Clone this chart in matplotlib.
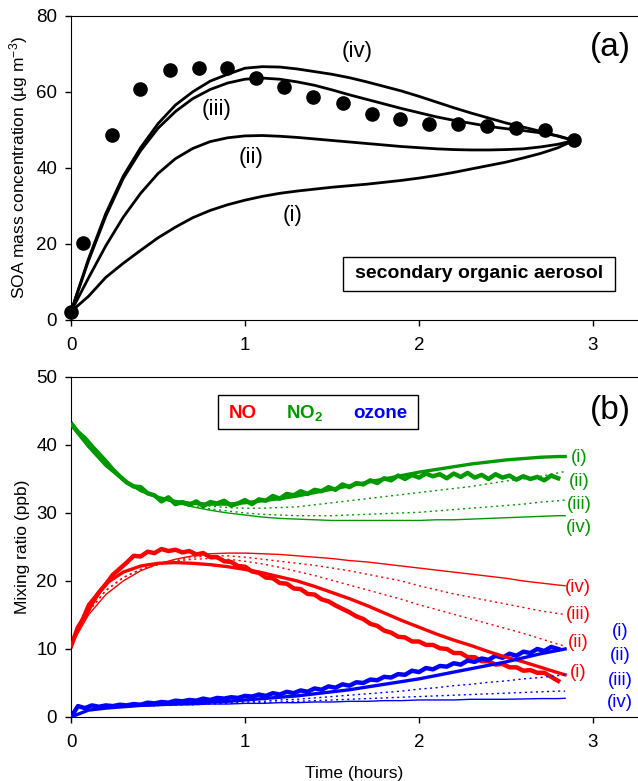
import numpy as np
import matplotlib
matplotlib.use("Agg")
import matplotlib.pyplot as plt
from matplotlib.patches import Rectangle

plt.rcParams['font.family'] = ['Liberation Sans', 'DejaVu Sans']
plt.rcParams['mathtext.fontset'] = 'custom'
plt.rcParams['mathtext.rm'] = 'Liberation Sans'
plt.rcParams['mathtext.bf'] = 'Liberation Sans:bold'
plt.rcParams['mathtext.default'] = 'regular'

# ---- panel (a): SOA mass ----
soa_t = [0.0, 0.067, 0.234, 0.398, 0.567, 0.734, 0.897, 1.061, 1.226, 1.393,
         1.561, 1.728, 1.893, 2.059, 2.226, 2.391, 2.559, 2.726, 2.891]
soa_obs = [2.1, 20.2, 48.7, 60.7, 65.8, 66.2, 66.2, 63.6, 61.2, 58.6,
           57.0, 54.1, 52.9, 51.6, 51.6, 51.1, 50.4, 50.0, 47.2]

ta = [0.0, 0.1, 0.2, 0.3, 0.4, 0.5, 0.6, 0.7, 0.8, 0.9, 1.0, 1.1, 1.2, 1.3, 1.4,
      1.5, 1.6, 1.7, 1.8, 1.9, 2.0, 2.1, 2.2, 2.3, 2.4, 2.5, 2.6, 2.7, 2.8, 2.89]
soa_i = [2.2, 6.2, 11.2, 14.9, 18.3, 21.6, 24.4, 26.9, 28.8, 30.3, 31.5, 32.5, 33.3, 33.9, 34.4,
         34.9, 35.3, 35.7, 36.2, 36.7, 37.3, 38.0, 38.8, 39.7, 40.6, 41.5, 42.6, 43.8, 45.3, 47.2]
soa_ii = [2.2, 11.0, 19.5, 27.0, 33.3, 38.5, 42.4, 45.1, 46.9, 47.9, 48.4, 48.5, 48.3, 48.0, 47.6,
          47.2, 46.8, 46.4, 46.0, 45.6, 45.3, 45.0, 44.8, 44.7, 44.7, 44.8, 45.0, 45.5, 46.2, 47.2]
soa_iii = [2.2, 15.5, 27.3, 37.2, 44.5, 50.4, 54.8, 58.2, 60.6, 62.3, 63.3, 63.6, 63.3, 62.6, 61.7,
           60.5, 59.2, 58.0, 56.8, 55.6, 54.5, 53.4, 52.5, 51.7, 50.9, 50.3, 49.8, 49.2, 48.4, 47.2]
soa_iv = [2.2, 16.0, 28.0, 37.8, 45.3, 51.6, 56.5, 60.0, 62.8, 64.6, 66.2, 66.6, 66.5, 66.0, 65.3,
          64.6, 63.7, 62.6, 61.4, 60.2, 58.8, 57.3, 55.8, 54.4, 53.1, 51.8, 50.7, 49.6, 48.3, 47.2]

# ---- panel (b): measured mixing ratios (ppb), every 0.04 h ----
tm = np.round(np.arange(0, 2.81, 0.04), 2)
no2_obs = [43.2, 41.9, 41.0, 39.8, 38.7, 37.6, 36.4, 35.4, 34.5, 33.9, 33.8, 32.9, 32.6, 31.7,
           32.3, 31.3, 31.6, 31.2, 31.7, 31.0, 31.6, 31.4, 31.8, 31.1, 31.4, 31.9, 31.3, 32.0,
           31.8, 32.5, 32.1, 32.8, 32.6, 33.2, 32.8, 33.4, 33.2, 33.8, 33.4, 34.2, 33.8, 34.4,
           34.2, 34.8, 34.4, 35.1, 34.8, 35.5, 35.0, 35.6, 35.2, 35.8, 35.4, 35.7, 35.1, 35.8,
           35.3, 35.9, 35.2, 35.6, 35.0, 35.7, 35.2, 35.5, 34.9, 35.4, 35.0, 35.3, 34.8, 35.5, 35.1]
no_obs = [10.4, 13.2, 14.8, 16.7, 18.3, 19.5, 20.9, 21.8, 22.7, 23.7, 23.6, 24.3, 24.1, 24.7,
          24.4, 24.6, 24.2, 24.4, 23.9, 24.1, 23.5, 23.5, 22.9, 22.8, 22.2, 22.1, 21.4, 21.2,
          20.5, 20.4, 19.7, 19.6, 18.9, 18.8, 18.1, 18.0, 17.3, 17.0, 16.4, 15.9, 15.4, 14.8,
          14.4, 13.7, 13.4, 12.7, 12.4, 11.8, 11.7, 11.1, 11.1, 10.6, 10.6, 10.1, 10.0, 9.4,
          9.4, 8.8, 8.8, 8.2, 8.2, 7.7, 7.8, 7.3, 7.3, 6.8, 6.9, 6.5, 6.5, 5.9, 5.3]
o3_obs = [0.0, 1.6, 1.3, 1.7, 1.5, 1.7, 1.6, 1.8, 1.7, 1.9, 1.8, 2.1, 2.0, 2.2,
          2.1, 2.4, 2.3, 2.5, 2.4, 2.7, 2.5, 2.8, 2.7, 2.9, 2.8, 3.1, 3.0, 3.3,
          3.1, 3.5, 3.3, 3.7, 3.5, 3.9, 3.7, 4.2, 4.0, 4.5, 4.3, 4.8, 4.6, 5.1,
          5.0, 5.5, 5.4, 5.9, 5.8, 6.3, 6.2, 6.8, 6.6, 7.2, 7.0, 7.5, 7.4, 7.9,
          7.7, 8.3, 8.1, 8.6, 8.4, 9.0, 8.7, 9.3, 9.0, 9.6, 9.4, 10.0, 9.7, 10.3, 10.0]

# ---- panel (b): model cases (i)-(iv) ----
tb = [0.0, 0.1, 0.2, 0.3, 0.4, 0.5, 0.6, 0.7, 0.8, 0.9, 1.0, 1.1, 1.2, 1.3, 1.4,
      1.5, 1.6, 1.7, 1.8, 1.9, 2.0, 2.1, 2.2, 2.3, 2.4, 2.5, 2.6, 2.7, 2.8, 2.84]
no2_mod = {
    'i':   [43.0, 39.8, 37.0, 34.9, 33.3, 32.3, 31.7, 31.4, 31.3, 31.3, 31.5, 31.8, 32.1, 32.5, 33.0,
            33.5, 34.0, 34.5, 35.0, 35.5, 36.0, 36.4, 36.8, 37.2, 37.5, 37.8, 38.0, 38.2, 38.3, 38.3],
    'ii':  [43.0, 39.8, 37.0, 34.9, 33.3, 32.3, 31.6, 31.3, 31.0, 30.8, 30.7, 30.7, 30.8, 30.9, 31.2,
            31.5, 31.8, 32.1, 32.4, 32.7, 33.0, 33.3, 33.6, 33.9, 34.3, 34.7, 35.0, 35.4, 35.9, 36.1],
    'iii': [43.0, 39.8, 37.0, 34.9, 33.3, 32.3, 31.5, 31.0, 30.6, 30.3, 30.0, 29.8, 29.7, 29.6, 29.6,
            29.6, 29.7, 29.8, 29.9, 30.0, 30.1, 30.3, 30.5, 30.7, 30.9, 31.1, 31.3, 31.6, 31.8, 31.9],
    'iv':  [43.0, 39.8, 37.0, 34.9, 33.3, 32.2, 31.5, 30.9, 30.4, 30.0, 29.7, 29.4, 29.2, 29.1, 29.0,
            28.9, 28.9, 28.9, 28.9, 28.9, 28.9, 29.0, 29.0, 29.1, 29.2, 29.3, 29.4, 29.5, 29.6, 29.6],
}
no_mod = {
    'i':   [10.5, 16.5, 19.6, 21.3, 22.2, 22.6, 22.7, 22.6, 22.4, 22.1, 21.7, 21.2, 20.6, 20.0, 19.2,
            18.3, 17.4, 16.4, 15.3, 14.2, 13.2, 12.2, 11.3, 10.5, 9.6, 8.8, 8.1, 7.3, 6.5, 6.2],
    'ii':  [10.5, 15.5, 18.6, 20.5, 21.7, 22.4, 22.9, 23.2, 23.3, 23.2, 22.9, 22.5, 22.0, 21.4, 20.8,
            20.1, 19.4, 18.7, 18.0, 17.3, 16.5, 15.8, 15.1, 14.4, 13.7, 13.0, 12.3, 11.5, 10.7, 10.4],
    'iii': [10.5, 15.5, 18.6, 20.5, 21.7, 22.4, 23.0, 23.5, 23.7, 23.7, 23.5, 23.2, 22.9, 22.6, 22.3,
            21.9, 21.5, 21.0, 20.5, 20.0, 19.3, 18.7, 18.1, 17.6, 17.1, 16.6, 16.1, 15.6, 15.2, 15.1],
    'iv':  [10.5, 15.0, 18.0, 20.0, 21.5, 22.5, 23.2, 23.7, 24.0, 24.1, 24.1, 24.0, 23.9, 23.7, 23.5,
            23.3, 23.0, 22.8, 22.5, 22.2, 21.9, 21.6, 21.3, 21.0, 20.7, 20.4, 20.0, 19.7, 19.4, 19.3],
}
o3_mod = {
    'i':   [0.0, 1.0, 1.3, 1.5, 1.7, 1.8, 1.9, 2.0, 2.2, 2.3, 2.5, 2.7, 2.9, 3.1, 3.4,
            3.7, 4.0, 4.4, 4.8, 5.2, 5.6, 6.1, 6.6, 7.1, 7.6, 8.1, 8.7, 9.3, 9.8, 10.0],
    'ii':  [0.0, 1.0, 1.3, 1.5, 1.6, 1.7, 1.8, 1.9, 2.0, 2.1, 2.2, 2.3, 2.5, 2.6, 2.8,
            3.0, 3.2, 3.4, 3.6, 3.8, 4.1, 4.3, 4.6, 4.8, 5.1, 5.3, 5.6, 5.8, 6.1, 6.2],
    'iii': [0.0, 1.0, 1.3, 1.5, 1.6, 1.7, 1.8, 1.8, 1.9, 2.0, 2.0, 2.1, 2.2, 2.3, 2.4,
            2.5, 2.6, 2.7, 2.8, 2.9, 3.0, 3.1, 3.2, 3.3, 3.4, 3.5, 3.6, 3.7, 3.8, 3.8],
    'iv':  [0.0, 1.0, 1.3, 1.5, 1.6, 1.7, 1.8, 1.8, 1.9, 1.9, 2.0, 2.0, 2.1, 2.1, 2.2,
            2.2, 2.3, 2.3, 2.4, 2.4, 2.5, 2.5, 2.5, 2.6, 2.6, 2.6, 2.65, 2.7, 2.7, 2.75],
}
cases = ['i', 'ii', 'iii', 'iv']

RED, GREEN, BLUE = '#ff0000', '#009900', '#0000ff'
case_style = {'i': dict(lw=2.4, ls='-'), 'ii': dict(lw=1.0, ls=(0, (1.5, 2.5))),
              'iii': dict(lw=1.0, ls=(0, (1.5, 2.5))), 'iv': dict(lw=1.0, ls='-')}

fig = plt.figure(figsize=(6.38, 7.81), dpi=100)
ax1 = fig.add_axes([0.1113, 0.5903, 0.8887, 0.3896])
ax2 = fig.add_axes([0.1113, 0.0820, 0.8887, 0.4353])

for ax in (ax1, ax2):
    ax.spines['right'].set_visible(False)
    ax.set_xlim(0, 3.259)
    ax.set_xticks([0, 1, 2, 3])
    ax.tick_params(direction='out', length=4, width=1, labelsize=13.5)
    ax.tick_params(axis='x', pad=8)
    ax.tick_params(axis='y', pad=6)

# panel (a)
for c, y in zip(cases, [soa_i, soa_ii, soa_iii, soa_iv]):
    ax1.plot(ta, y, color='black', lw=2.0, zorder=2)
ax1.plot(soa_t, soa_obs, 'o', color='black', ms=9.5, clip_on=False, zorder=3)
ax1.set_ylim(0, 80)
ax1.set_yticks([0, 20, 40, 60, 80])
ax1.set_ylabel('SOA mass concentration (µg m$^{-3}$)', fontsize=12.5)
ax1.yaxis.set_label_coords(-0.072, 0.5)
for txt, x, y in [('(iv)', 1.644, 70.5), ('(iii)', 0.839, 55.3), ('(ii)', 1.034, 42.6), ('(i)', 1.276, 27.4)]:
    ax1.text(x, y, txt, fontsize=16, ha='center', va='center')
ax1.text(3.098, 71.6, '(a)', fontsize=24, ha='center', va='center')
ax1.add_patch(Rectangle((1.563, 7.6), 1.563, 9.0, facecolor='white', edgecolor='black', lw=1.0, zorder=4))
ax1.text(2.345, 12.1, 'secondary organic aerosol', fontsize=14, fontweight='bold',
         ha='center', va='center', zorder=5)

# panel (b)
ax2.plot(tm, no2_obs, color=GREEN, lw=3.2, zorder=2)
ax2.plot(tm, no_obs, color=RED, lw=3.2, zorder=2)
ax2.plot(tm, o3_obs, color=BLUE, lw=3.2, zorder=2)
for mod, col in [(no2_mod, GREEN), (no_mod, RED), (o3_mod, BLUE)]:
    for c in cases:
        ax2.plot(tb, mod[c], color=col, zorder=3, **case_style[c])
ax2.set_ylim(0, 50)
ax2.set_yticks([0, 10, 20, 30, 40, 50])
ax2.set_ylabel('Mixing ratio (ppb)', fontsize=12.5)
ax2.yaxis.set_label_coords(-0.072, 0.5)
ax2.set_xlabel('Time (hours)', fontsize=12.5, labelpad=11)
ax2.text(3.098, 45.1, '(b)', fontsize=24, ha='center', va='center')

for c, y in zip(cases, [38.1, 34.7, 31.2, 27.8]):
    ax2.text(2.92, y, '(%s)' % c, color=GREEN, fontsize=13.5, ha='center', va='center')
for c, y in zip(cases, [6.6, 10.9, 15.0, 19.1]):
    ax2.text(2.914, y, '(%s)' % c, color=RED, fontsize=13.5, ha='center', va='center')
for c, y in zip(cases, [12.5, 9.0, 5.4, 2.1]):
    ax2.text(3.155, y, '(%s)' % c, color=BLUE, fontsize=13.5, ha='center', va='center')

ax2.add_patch(Rectangle((0.845, 42.35), 1.149, 5.0, facecolor='white', edgecolor='black', lw=1.0, zorder=4))
ax2.text(0.989, 43.9, 'NO', color=RED, fontsize=13.5, fontweight='bold', ha='center', va='baseline', zorder=5)
ax2.text(1.236, 43.9, r'NO$_\mathbf{2}$', color=GREEN, fontsize=13.5, fontweight='bold', ha='left', va='baseline', zorder=5)
ax2.text(1.776, 43.9, 'ozone', color=BLUE, fontsize=13.5, fontweight='bold', ha='center', va='baseline', zorder=5)

fig.savefig('out.png', dpi=100)
